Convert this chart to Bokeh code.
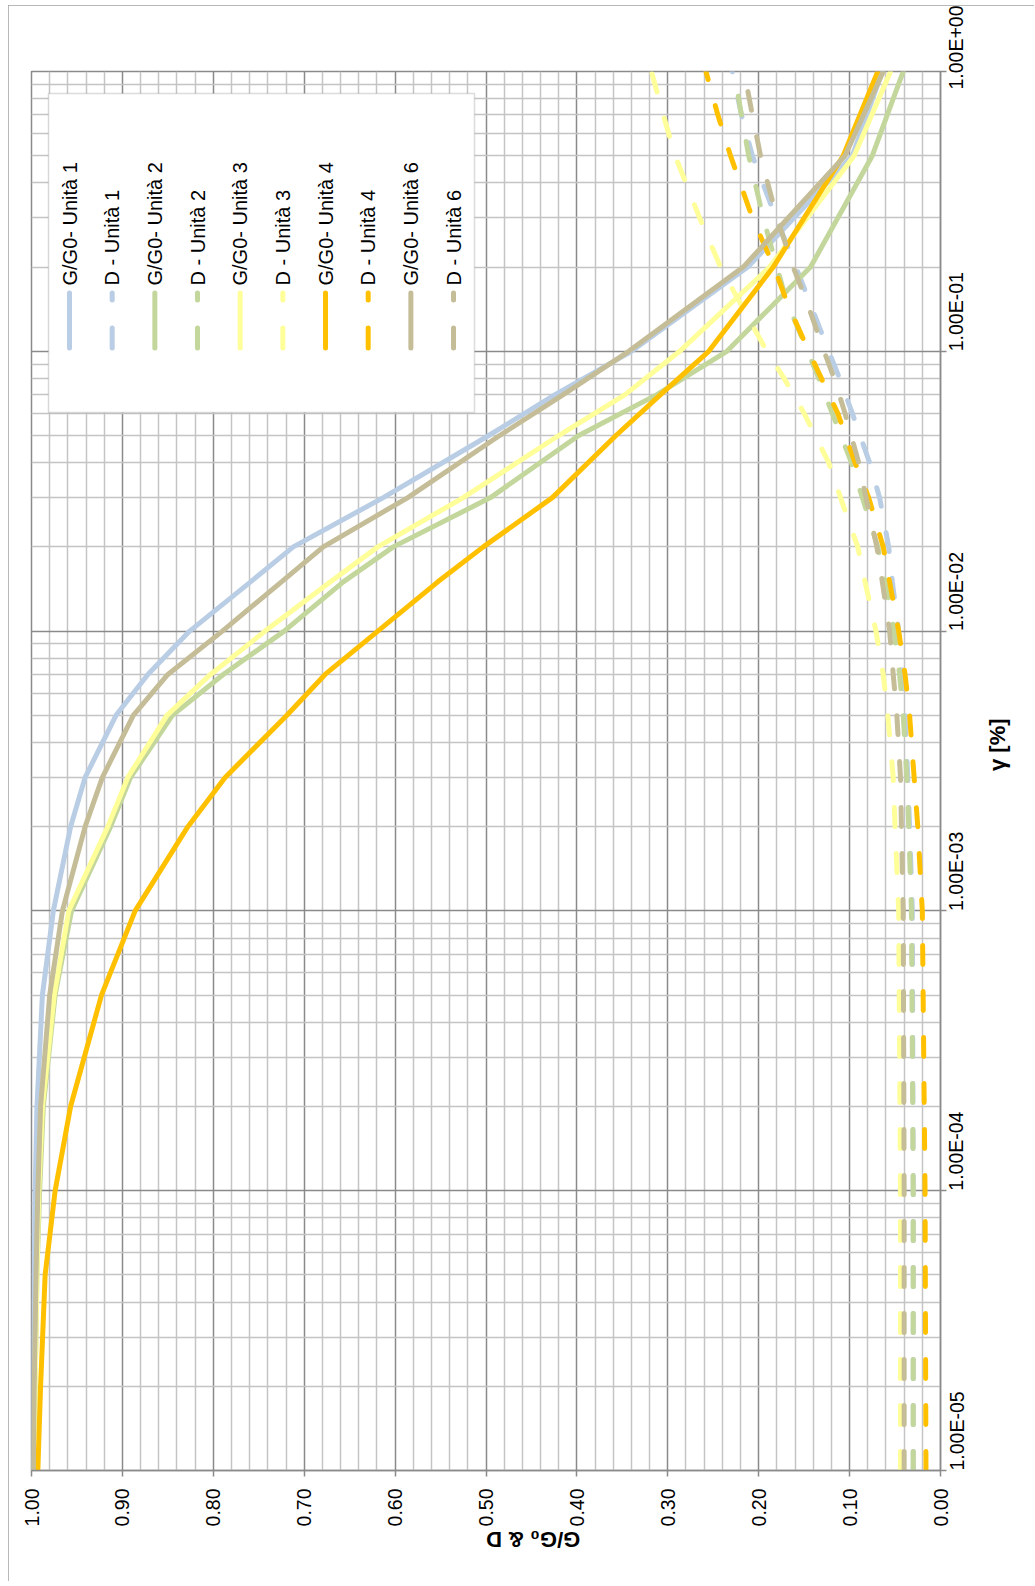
import math
from bokeh.plotting import figure
from bokeh.models import Range1d, FixedTicker, NumeralTickFormatter, BoxAnnotation, Label
from bokeh.embed import file_html
from bokeh.resources import INLINE

# ---------------- data ----------------
gamma_G = [1e-5, 2e-5, 5e-5, 1e-4, 2e-4, 5e-4, 1e-3, 2e-3, 3e-3, 5e-3, 7e-3,
           1e-2, 1.5e-2, 2e-2, 3e-2, 5e-2, 7e-2, 1e-1, 2e-1, 5e-1, 1.0]
G_u1 = [0.999, 0.998, 0.997, 0.996, 0.994, 0.988, 0.976, 0.957, 0.941, 0.907, 0.872,
        0.826, 0.759, 0.712, 0.613, 0.497, 0.424, 0.340, 0.212, 0.097, 0.064]
G_u2 = [0.997, 0.996, 0.994, 0.991, 0.987, 0.974, 0.956, 0.913, 0.891, 0.845, 0.789,
        0.722, 0.657, 0.602, 0.495, 0.398, 0.312, 0.235, 0.143, 0.075, 0.041]
G_u3 = [0.997, 0.996, 0.994, 0.992, 0.988, 0.975, 0.959, 0.916, 0.894, 0.851, 0.803,
        0.743, 0.671, 0.619, 0.525, 0.420, 0.347, 0.287, 0.188, 0.095, 0.055]
G_u4 = [0.993, 0.990, 0.985, 0.974, 0.957, 0.923, 0.886, 0.828, 0.787, 0.719, 0.677,
        0.619, 0.553, 0.503, 0.427, 0.357, 0.308, 0.255, 0.184, 0.107, 0.069]
G_u6 = [0.998, 0.997, 0.995, 0.993, 0.990, 0.980, 0.966, 0.941, 0.922, 0.888, 0.850,
        0.790, 0.725, 0.679, 0.586, 0.485, 0.415, 0.343, 0.217, 0.105, 0.063]

gamma_D = [1e-5, 1e-4, 1e-3, 2e-3, 3e-3, 5e-3, 7e-3, 1e-2, 1.5e-2, 2e-2, 3e-2,
           4e-2, 6e-2, 8e-2, 1e-1, 1.5e-1, 2e-1, 3e-1, 5e-1, 7e-1, 1.0]
D_u1 = [0.030, 0.030, 0.031, 0.034, 0.036, 0.039, 0.042, 0.046, 0.053, 0.057, 0.067,
        0.078, 0.097, 0.111, 0.123, 0.144, 0.159, 0.181, 0.207, 0.219, 0.229]
D_u2 = [0.030, 0.030, 0.032, 0.035, 0.037, 0.041, 0.045, 0.051, 0.061, 0.069, 0.086,
        0.098, 0.119, 0.134, 0.146, 0.169, 0.180, 0.195, 0.211, 0.219, 0.227]
D_u3 = [0.044, 0.044, 0.046, 0.050, 0.052, 0.058, 0.063, 0.071, 0.083, 0.091, 0.110,
        0.123, 0.150, 0.172, 0.191, 0.221, 0.242, 0.265, 0.292, 0.305, 0.318]
D_u4 = [0.016, 0.017, 0.020, 0.025, 0.029, 0.034, 0.039, 0.046, 0.056, 0.063, 0.079,
        0.094, 0.113, 0.131, 0.145, 0.169, 0.183, 0.207, 0.231, 0.245, 0.258]
D_u6 = [0.040, 0.040, 0.041, 0.043, 0.044, 0.048, 0.052, 0.056, 0.064, 0.070, 0.082,
        0.090, 0.105, 0.117, 0.128, 0.147, 0.162, 0.180, 0.198, 0.207, 0.216]

series_names = ["G/G0- Unità 1", "D - Unità 1", "G/G0- Unità 2", "D - Unità 2",
                "G/G0- Unità 3", "D - Unità 3", "G/G0- Unità 4", "D - Unità 4",
                "G/G0- Unità 6", "D - Unità 6"]
series_values = [G_u1, D_u1, G_u2, D_u2, G_u3, D_u3, G_u4, D_u4, G_u6, D_u6]
series_gamma = [gamma_G, gamma_D] * 5
series_dashed = [False, True] * 5
unit_colors = ["#B9CDE5", "#C3D69B", "#FFFF99", "#FFC000", "#C4BD97"]
series_colors = [c for c in unit_colors for _ in (0, 1)]

ratio_ticks = [0.0, 0.1, 0.2, 0.3, 0.4, 0.5, 0.6, 0.7, 0.8, 0.9, 1.0]
gamma_ticks = [1e-5, 1e-4, 1e-3, 1e-2, 1e-1, 1.0]
gamma_tick_labels = ["1.00E-05", "1.00E-04", "1.00E-03", "1.00E-02", "1.00E-01", "1.00E+00"]
x_title = "γ [%]"
y_title = "G/G₀ & D"

# ---------------- layout (canvas is offset by margin 8px left, 5px top) ----------------
OX, OY = 8, 5
W, H = 1026, 1576
FL, FT = 31 - OX, 71 - OY
FR, FB = W - (940 - OX), H - (1470 - OY)
FW = W - FL - FR
FH = H - FT - FB


def gx(px):
    return 1.0 - (px - OX - FL) / FW


def gy(py):
    return 10 ** (-5.0 * (py - OY - FT) / FH)


FONT = "Liberation Sans"
MAJOR = "#8a8a8a"
MINOR = "#c4c4c4"

p = figure(width=W, height=H, x_range=Range1d(1, 0), y_range=Range1d(1e-5, 1),
           y_axis_type="log", y_axis_location="right",
           output_backend="svg", toolbar_location=None,
           min_border_left=FL, min_border_top=FT, min_border_right=FR, min_border_bottom=FB)
p.background_fill_color = "white"
p.border_fill_color = "white"
p.outline_line_color = MAJOR
p.outline_line_width = 1.5
p.styles = {"margin-left": f"{OX}px", "margin-top": f"{OY}px",
            "outline": "1px solid #a0a0a0", "outline-offset": "-1px"}

xt = FixedTicker(ticks=ratio_ticks,
                 minor_ticks=[i * 0.02 for i in range(51) if i % 5])
yt = FixedTicker(ticks=gamma_ticks,
                 minor_ticks=[m * 10.0 ** e for e in range(-5, 0) for m in range(2, 10)])

xa = p.xaxis[0]
ya = p.yaxis[0]
xa.ticker = xt
ya.ticker = yt
p.xgrid[0].ticker = xt
p.ygrid[0].ticker = yt
xa.formatter = NumeralTickFormatter(format="0.00")
ya.major_label_overrides = {t: l for t, l in zip(gamma_ticks, gamma_tick_labels)}

for ax in (xa, ya):
    ax.axis_line_color = MAJOR
    ax.axis_line_width = 1.5
    ax.major_tick_line_color = MAJOR
    ax.major_tick_line_width = 1.5
    ax.major_tick_in = 0
    ax.major_tick_out = 6
    ax.minor_tick_line_color = None
    ax.major_label_text_font = FONT
    ax.major_label_text_font_size = "19.5px"
    ax.major_label_text_color = "#000000"
    ax.major_label_orientation = math.pi / 2
    ax.axis_label_text_font = FONT
    ax.axis_label_text_font_size = "22px"
    ax.axis_label_text_font_style = "bold"
    ax.axis_label_text_color = "#000000"
xa.major_label_standoff = 12
ya.major_label_standoff = 10

xa.axis_label = y_title
xa.axis_label_orientation = math.pi
xa.axis_label_standoff = 10
ya.axis_label = x_title
ya.axis_label_orientation = math.pi / 2
ya.axis_label_standoff = 16

for g in (p.xgrid[0], p.ygrid[0]):
    g.grid_line_color = MAJOR
    g.grid_line_width = 1.5
    g.minor_grid_line_color = MINOR
    g.minor_grid_line_width = 1.5

# ---------------- series ----------------
for name, vals, gam, col, dashed in zip(series_names, series_values, series_gamma,
                                        series_colors, series_dashed):
    p.line(x=vals, y=gam, line_color=col, line_width=5,
           line_dash="19 27" if dashed else "solid",
           line_cap="round", line_join="round")

# ---------------- legend (drawn manually, rotated text) ----------------
p.add_layout(BoxAnnotation(left=gx(48), right=gx(474), top=gy(93), bottom=gy(412),
                           fill_color="white", fill_alpha=1.0,
                           line_color=MAJOR, line_width=1.5, level="annotation"))
for i, (name, col, dashed) in enumerate(zip(series_names, series_colors, series_dashed)):
    sx = 69 + 42.67 * i
    if dashed:
        ys = [(292.5, 299.5), (327.5, 347.5)]
    else:
        ys = [(292.5, 347.5)]
    for (a, b) in ys:
        p.segment(x0=[gx(sx)], y0=[gy(a)], x1=[gx(sx)], y1=[gy(b)],
                  line_color=col, line_width=5, line_cap="round", level="overlay")
    p.add_layout(Label(x=gx(sx), y=gy(285), text=name, angle=math.pi / 2,
                       text_align="left", text_baseline="middle",
                       text_font=FONT, text_font_size="20px", text_color="#000000",
                       level="overlay"))

open("out.html", "w").write(file_html(p, INLINE))
